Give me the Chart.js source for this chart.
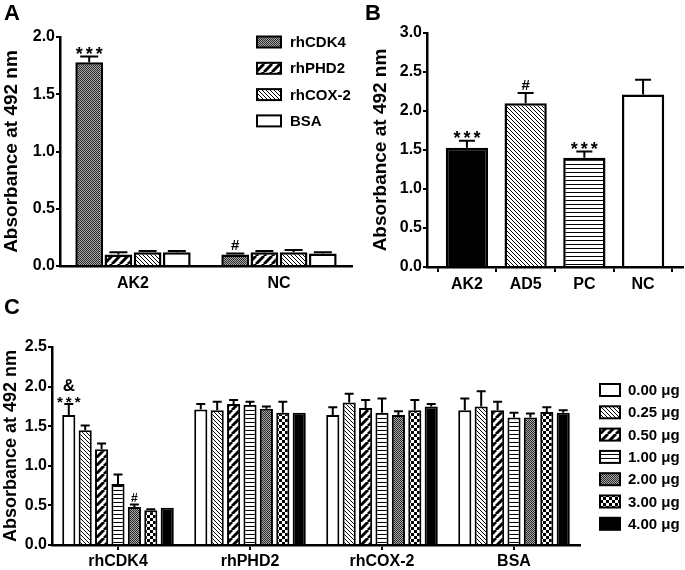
<!DOCTYPE html>
<html>
<head>
<meta charset="utf-8">
<script src="https://cdn.jsdelivr.net/npm/chart.js@4.4.1/dist/chart.umd.min.js"></script>
<style>
  body { margin: 0; background: #fff; }
  #wrap { position: relative; width: 685px; height: 570px; font-family: 'Liberation Sans', Arial, sans-serif; }
  canvas { position: absolute; }
  .panel { position: absolute; font-weight: bold; font-size: 22px; line-height: 24px; color: #000; }
</style>
</head>
<body>
<div id="wrap">
  <canvas id="chartA" width="355" height="290" style="left:0;top:0"></canvas>
  <canvas id="chartB" width="345" height="290" style="left:340px;top:0"></canvas>
  <canvas id="chartC" width="685" height="280" style="left:0;top:290px"></canvas>
  <div class="panel" style="left:4px;top:1px">A</div>
  <div class="panel" style="left:365px;top:1px">B</div>
  <div class="panel" style="left:4px;top:295px">C</div>
</div>
<script>
// panel A
const aGroups = ['AK2', 'NC'];
const aCDK4 = [1.78, 0.10];
const aCDK4Err = [0.05, 0.01];
const aPHD2 = [0.10, 0.12];
const aPHD2Err = [0.02, 0.01];
const aCOX2 = [0.12, 0.12];
const aCOX2Err = [0.01, 0.02];
const aBSA = [0.12, 0.11];
const aBSAErr = [0.01, 0.01];
const aCDK4Marks = ['***', '#'];

// panel B
const bGroups = ['AK2', 'AD5', 'PC', 'NC'];
const bMean = [1.53, 2.10, 1.40, 2.21];
const bErr = [0.09, 0.13, 0.08, 0.19];
const bMarks = ['***', '#', '***', ''];

// panel C
const cGroups = ['rhCDK4', 'rhPHD2', 'rhCOX-2', 'BSA'];
const cDoses = ['0.00 μg', '0.25 μg', '0.50 μg', '1.00 μg', '2.00 μg', '3.00 μg', '4.00 μg'];
const c000 = [1.64, 1.71, 1.64, 1.70];
const c000Err = [0.14, 0.07, 0.10, 0.15];
const c025 = [1.45, 1.70, 1.80, 1.75];
const c025Err = [0.06, 0.11, 0.11, 0.19];
const c050 = [1.21, 1.78, 1.73, 1.70];
const c050Err = [0.07, 0.05, 0.10, 0.11];
const c100 = [0.77, 1.77, 1.67, 1.61];
const c100Err = [0.12, 0.04, 0.18, 0.06];
const c200 = [0.48, 1.72, 1.64, 1.61];
const c200Err = [0.03, 0.03, 0.05, 0.05];
const c300 = [0.44, 1.67, 1.70, 1.68];
const c300Err = [0.01, 0.14, 0.13, 0.06];
const c400 = [0.47, 1.67, 1.75, 1.67];
const c400Err = [0, 0, 0.03, 0.03];
const c000Marks = ['&\n***', '', '', ''];
const c200Marks = ['#', '', '', ''];

Chart.defaults.font.family = "'Liberation Sans', Arial, sans-serif";
Chart.defaults.font.weight = 'bold';
Chart.defaults.color = '#000';

function makePatterns(ctx) {
  function tile(w, h, draw) {
    const c = document.createElement('canvas');
    c.width = w;
    c.height = h;
    const t = c.getContext('2d');
    t.fillStyle = '#fff';
    t.fillRect(0, 0, w, h);
    t.fillStyle = '#000';
    t.strokeStyle = '#000';
    draw(t);
    return ctx.createPattern(c, 'repeat');
  }
  return {
    white: '#fff',
    black: '#000',
    dots: tile(2, 2, (t) => {
      t.fillStyle = '#2a2a2a';
      t.fillRect(0, 0, 1, 1);
      t.fillRect(1, 1, 1, 1);
      t.fillStyle = '#a8a8a8';
      t.fillRect(1, 0, 1, 1);
      t.fillRect(0, 1, 1, 1);
    }),
    wide: tile(8, 8, (t) => {
      t.lineWidth = 3;
      for (let k = -1; k <= 1; k++) {
        t.beginPath();
        t.moveTo(k * 8, 8);
        t.lineTo(k * 8 + 8, 0);
        t.stroke();
      }
    }),
    fine: tile(4, 4, (t) => {
      t.lineWidth = 1;
      for (let k = -1; k <= 1; k++) {
        t.beginPath();
        t.moveTo(k * 4, 0);
        t.lineTo(k * 4 + 4, 4);
        t.stroke();
      }
    }),
    hline: tile(4, 4, (t) => {
      t.fillRect(0, 0, 4, 1);
    }),
    check: tile(6, 6, (t) => {
      t.fillRect(0, 0, 3, 3);
      t.fillRect(3, 3, 3, 3);
    }),
  };
}

// upper error bars + significance marks
const errorBars = {
  id: 'errorBars',
  afterDatasetsDraw(chart, args, opts) {
    const ctx = chart.ctx;
    const yScale = chart.scales.y;
    const size = opts.markSize || 18;
    ctx.save();
    chart.data.datasets.forEach((ds, i) => {
      const meta = chart.getDatasetMeta(i);
      meta.data.forEach((bar, j) => {
        const raw = ds.data[j];
        const v = typeof raw === 'object' ? raw.y : raw;
        const e = ds.errors ? ds.errors[j] : 0;
        const top = yScale.getPixelForValue(v + e);
        ctx.strokeStyle = '#000';
        ctx.lineWidth = opts.lineWidth || 2;
        if (e > 0) {
          ctx.beginPath();
          ctx.moveTo(bar.x, bar.y);
          ctx.lineTo(bar.x, top);
          ctx.moveTo(bar.x - opts.cap / 2, top);
          ctx.lineTo(bar.x + opts.cap / 2, top);
          ctx.stroke();
        }
        const mark = ds.marks ? ds.marks[j] : '';
        if (!mark) return;
        ctx.fillStyle = '#000';
        ctx.textAlign = 'center';
        ctx.textBaseline = 'alphabetic';
        const lines = mark.split('\n').reverse();
        let base = top;
        lines.forEach((ln, k) => {
          const star = ln.startsWith('*');
          if (k === 0) {
            base = star ? top + size * 0.17 : top - 3;
          } else {
            base = base - size - 1;
          }
          const fs = star ? size : (k === 0 ? size - 3 : size + 2);
          ctx.font = 'bold ' + fs + "px 'Liberation Sans', Arial, sans-serif";
          ctx.letterSpacing = star ? opts.starGap + 'px' : '0px';
          ctx.fillText(ln, bar.x + (star ? opts.starGap / 2 : 0), base);
        });
        ctx.letterSpacing = '0px';
      });
    });
    ctx.restore();
  }
};

const boxLegend = {
  id: 'boxLegend',
  afterDraw(chart, args, opts) {
    if (opts.x === undefined) return;
    const ctx = chart.ctx;
    ctx.save();
    ctx.font = "bold 15px 'Liberation Sans', Arial, sans-serif";
    ctx.textBaseline = 'middle';
    ctx.textAlign = 'left';
    chart.data.datasets.forEach((ds, i) => {
      const cy = opts.y + i * opts.step;
      ctx.fillStyle = ds.backgroundColor;
      ctx.fillRect(opts.x, cy - opts.h / 2, opts.w, opts.h);
      ctx.lineWidth = 2;
      ctx.strokeStyle = '#000';
      ctx.strokeRect(opts.x, cy - opts.h / 2, opts.w, opts.h);
      ctx.fillStyle = '#000';
      ctx.fillText(ds.label, opts.x + opts.w + opts.gap, cy + 1);
    });
    ctx.restore();
  }
};

function yAxis(max, width, titleSize) {
  return {
    min: 0,
    max: max,
    ticks: { stepSize: 0.5, callback: (v) => v.toFixed(1), font: { size: 16, weight: 'bold' }, padding: 1 },
    grid: { drawOnChartArea: false, tickLength: 4, color: '#000', lineWidth: 2 },
    border: { color: '#000', width: 2.5 },
    title: { display: true, text: 'Absorbance at 492 nm', font: { size: titleSize, weight: 'bold' }, padding: 0 },
    afterFit: (s) => { s.width = width; },
  };
}

// ---- A ----
const ctxA = document.getElementById('chartA').getContext('2d');
const pA = makePatterns(ctxA);
new Chart(ctxA, {
  type: 'bar',
  data: {
    labels: aGroups,
    datasets: [
      { label: 'rhCDK4', data: aCDK4, errors: aCDK4Err, marks: aCDK4Marks, backgroundColor: pA.dots },
      { label: 'rhPHD2', data: aPHD2, errors: aPHD2Err, backgroundColor: pA.wide },
      { label: 'rhCOX-2', data: aCOX2, errors: aCOX2Err, backgroundColor: pA.fine },
      { label: 'BSA', data: aBSA, errors: aBSAErr, backgroundColor: pA.white },
    ],
  },
  options: {
    responsive: false,
    animation: false,
    layout: { padding: { top: 37, right: 3, left: 0, bottom: 0 } },
    datasets: { bar: { borderColor: '#000', borderWidth: 2.5, categoryPercentage: 0.8, barPercentage: 0.95 } },
    scales: {
      x: {
        grid: { display: false, drawTicks: false },
        border: { color: '#000', width: 2.5 },
        ticks: { font: { size: 16, weight: 'bold' }, padding: 8 },
        afterFit: (s) => { s.height = 24; },
      },
      y: yAxis(2, 60, 19),
    },
    plugins: {
      legend: { display: false },
      tooltip: { enabled: false },
      errorBars: { cap: 18, markSize: 18, starGap: 3 },
      boxLegend: { x: 257, y: 42, step: 26.3, w: 24, h: 11, gap: 9 },
    },
  },
  plugins: [errorBars, boxLegend],
});

// ---- B ----
const ctxB = document.getElementById('chartB').getContext('2d');
const pB = makePatterns(ctxB);
new Chart(ctxB, {
  type: 'bar',
  data: {
    datasets: [
      {
        label: 'B',
        data: bGroups.map((g, i) => ({ x: i, y: bMean[i] })),
        errors: bErr,
        marks: bMarks,
        backgroundColor: [pB.black, pB.fine, pB.hline, pB.white],
      },
    ],
  },
  options: {
    responsive: false,
    animation: false,
    layout: { padding: { top: 33, right: 2, left: 29, bottom: 0 } },
    datasets: { bar: { borderColor: '#000', borderWidth: 2.5, categoryPercentage: 1, barPercentage: 0.72 } },
    scales: {
      x: {
        type: 'linear',
        offset: false,
        min: -0.68,
        max: 3.68,
        grid: { drawOnChartArea: false, tickLength: 5, color: '#000', lineWidth: 2 },
        border: { color: '#000', width: 2.5 },
        ticks: { stepSize: 1, includeBounds: false, callback: (v) => bGroups[v] ?? '', font: { size: 16, weight: 'bold' }, padding: 3, maxRotation: 0 },
        afterFit: (s) => { s.height = 23; },
      },
      y: yAxis(3, 58, 19),
    },
    plugins: {
      legend: { display: false },
      tooltip: { enabled: false },
      errorBars: { cap: 16, markSize: 18, starGap: 3 },
    },
  },
  plugins: [errorBars, boxLegend],
});

// ---- C ----
const ctxC = document.getElementById('chartC').getContext('2d');
const pC = makePatterns(ctxC);
new Chart(ctxC, {
  type: 'bar',
  data: {
    labels: cGroups,
    datasets: [
      { label: cDoses[0], data: c000, errors: c000Err, marks: c000Marks, backgroundColor: pC.white },
      { label: cDoses[1], data: c025, errors: c025Err, backgroundColor: pC.fine },
      { label: cDoses[2], data: c050, errors: c050Err, backgroundColor: pC.wide },
      { label: cDoses[3], data: c100, errors: c100Err, backgroundColor: pC.hline },
      { label: cDoses[4], data: c200, errors: c200Err, marks: c200Marks, backgroundColor: pC.dots },
      { label: cDoses[5], data: c300, errors: c300Err, backgroundColor: pC.check },
      { label: cDoses[6], data: c400, errors: c400Err, backgroundColor: pC.black },
    ],
  },
  options: {
    responsive: false,
    animation: false,
    layout: { padding: { top: 57, right: 105, left: 0, bottom: 0 } },
    datasets: { bar: { borderColor: '#000', borderWidth: 2, categoryPercentage: 0.87, barPercentage: 0.8 } },
    scales: {
      x: {
        grid: { drawOnChartArea: false, offset: false, tickLength: 5, color: '#000', lineWidth: 2 },
        border: { color: '#000', width: 2.5 },
        ticks: { font: { size: 16, weight: 'bold' }, padding: 2 },
        afterFit: (s) => { s.height = 25; },
      },
      y: yAxis(2.5, 52, 18),
    },
    plugins: {
      legend: { display: false },
      tooltip: { enabled: false },
      errorBars: { cap: 9, markSize: 15, starGap: 3 },
      boxLegend: { x: 600, y: 100, step: 22.3, w: 20, h: 12, gap: 8 },
    },
  },
  plugins: [errorBars, boxLegend],
});
</script>
</body>
</html>
